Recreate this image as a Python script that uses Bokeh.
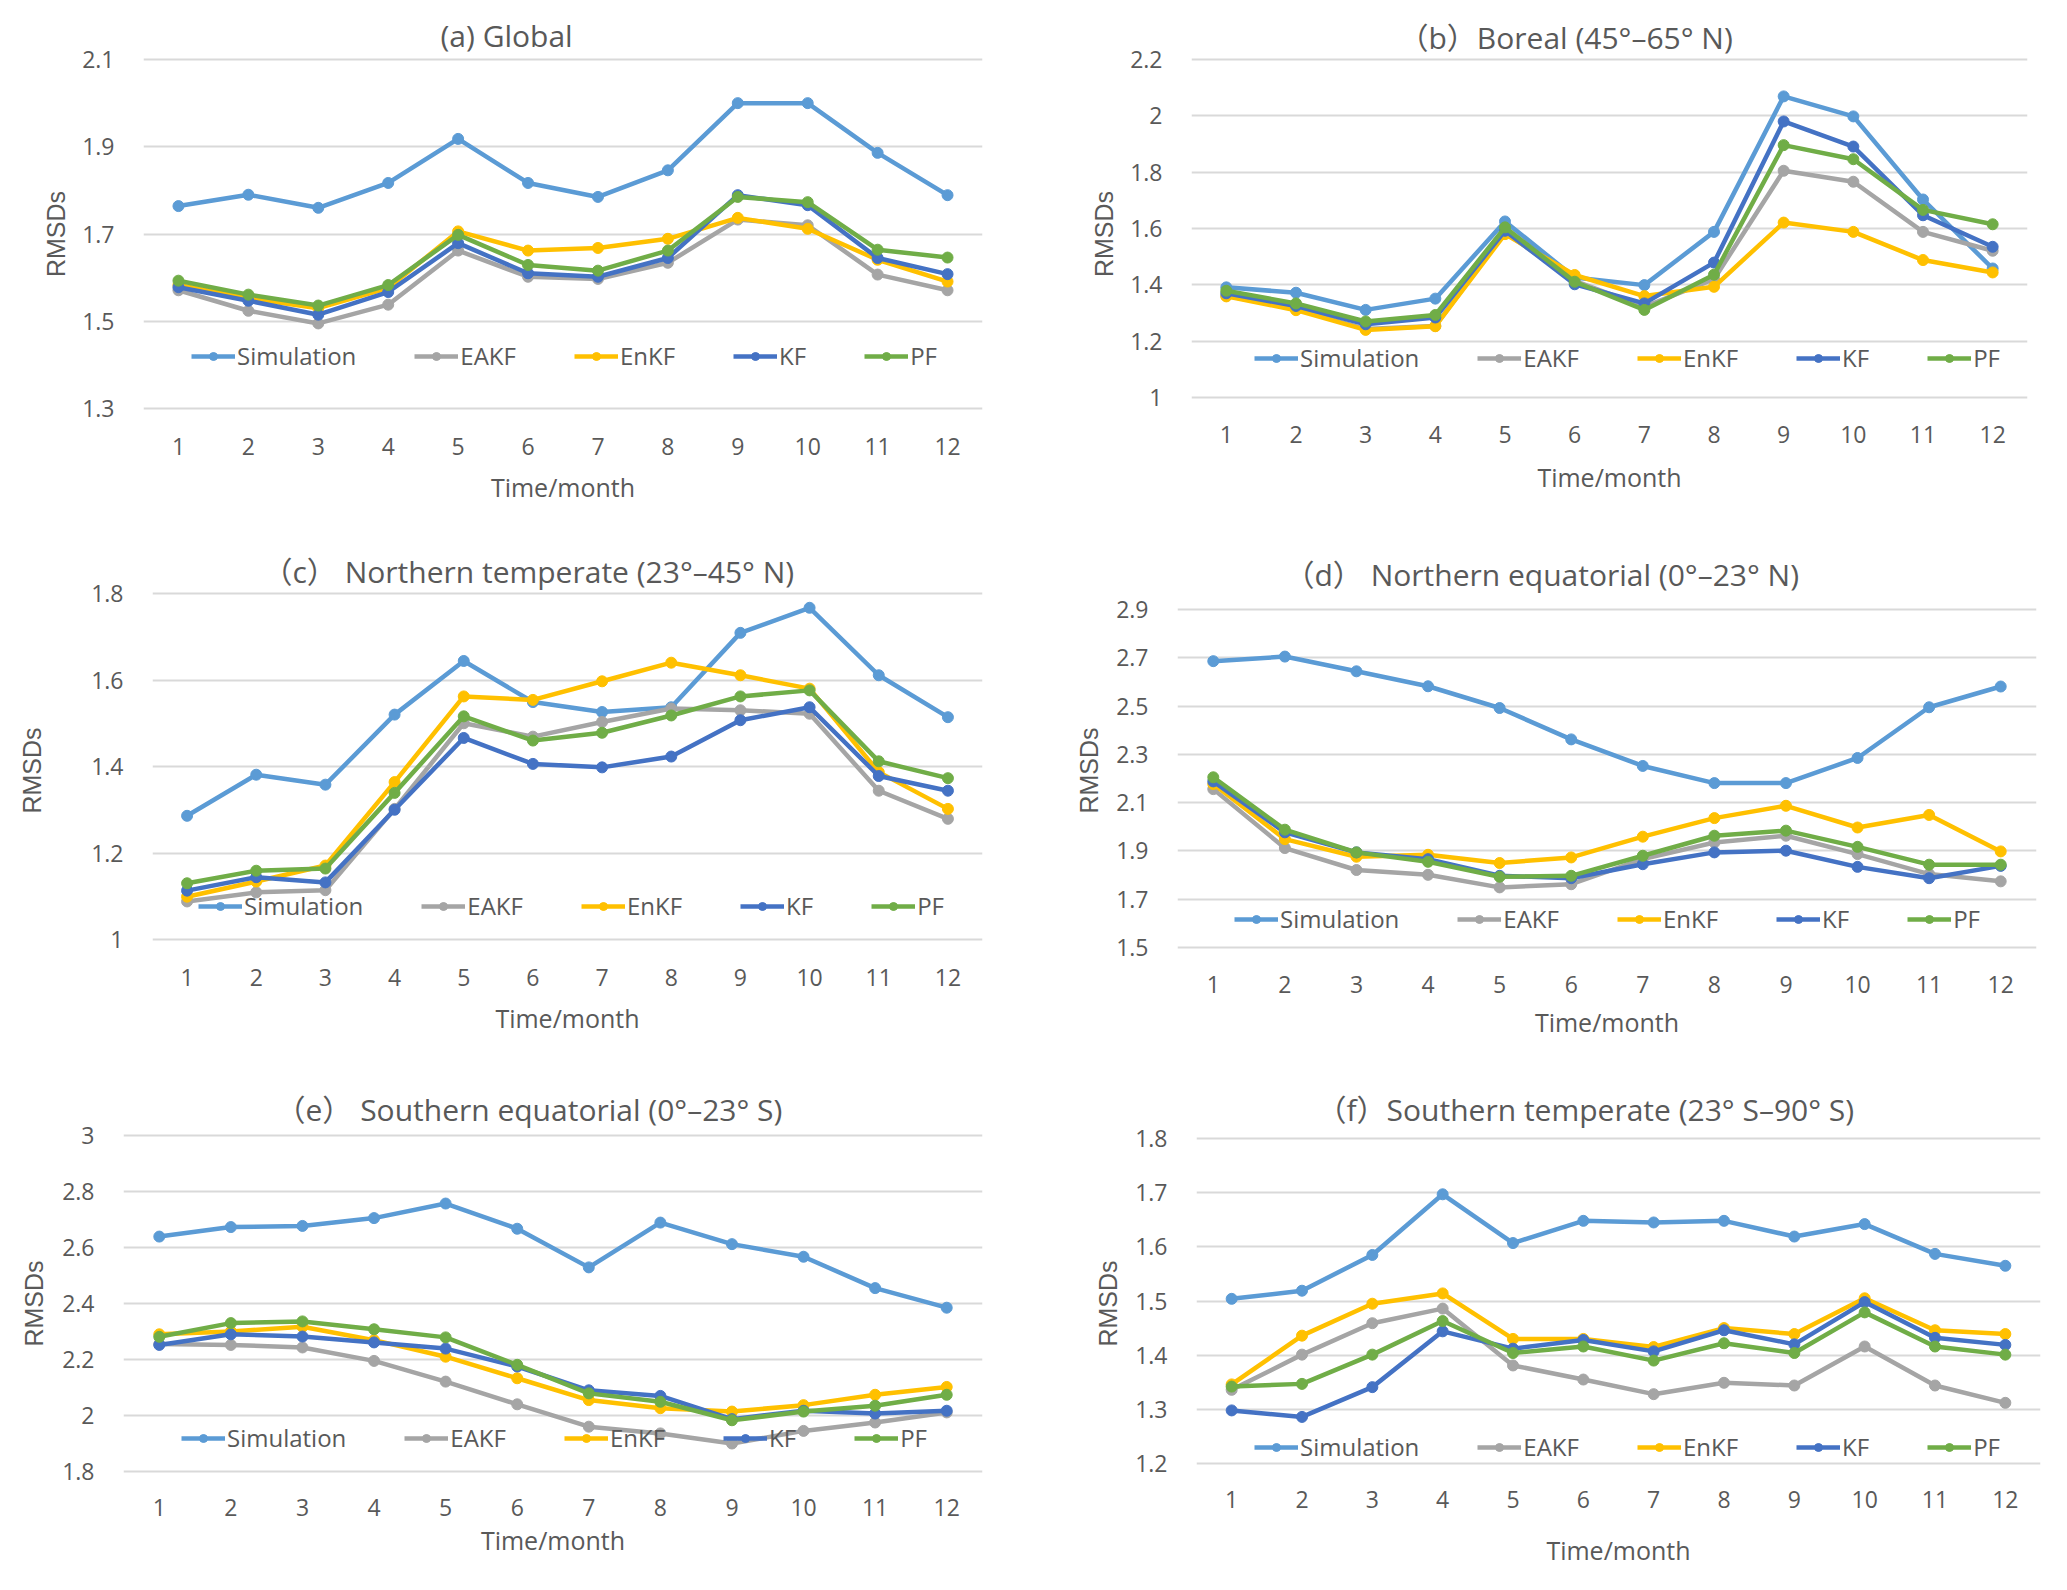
from bokeh.plotting import figure
from bokeh.models import (FixedTicker, NumeralTickFormatter, Legend, LegendItem,
                          Range1d, ColumnDataSource)
from bokeh.layouts import column, row
from bokeh.embed import file_html
from bokeh.resources import INLINE

months = list(range(1, 13))
series_names = ["Simulation", "EAKF", "EnKF", "KF", "PF"]
series_colors = ["#5B9BD5", "#A5A5A5", "#FFC000", "#4472C4", "#70AD47"]

# (a) Global
a_sim = [1.764, 1.790, 1.760, 1.817, 1.918, 1.817, 1.785, 1.846, 2.000, 2.000, 1.886, 1.789]
a_eakf = [1.571, 1.524, 1.495, 1.538, 1.662, 1.602, 1.597, 1.634, 1.733, 1.720, 1.607, 1.571]
a_enkf = [1.583, 1.553, 1.530, 1.576, 1.706, 1.662, 1.668, 1.689, 1.737, 1.712, 1.641, 1.591]
a_kf = [1.578, 1.547, 1.515, 1.567, 1.679, 1.610, 1.602, 1.645, 1.789, 1.766, 1.645, 1.608]
a_pf = [1.593, 1.561, 1.536, 1.583, 1.698, 1.629, 1.616, 1.662, 1.785, 1.773, 1.664, 1.646]
a_yticks = [1.3, 1.5, 1.7, 1.9, 2.1]

# (b) Boreal
b_sim = [1.391, 1.372, 1.311, 1.351, 1.625, 1.426, 1.399, 1.588, 2.069, 1.998, 1.703, 1.458]
b_eakf = [1.361, 1.314, 1.243, 1.254, 1.586, 1.414, 1.322, 1.420, 1.805, 1.766, 1.588, 1.521]
b_enkf = [1.359, 1.310, 1.240, 1.253, 1.580, 1.435, 1.360, 1.393, 1.621, 1.588, 1.488, 1.444]
b_kf = [1.370, 1.325, 1.260, 1.284, 1.592, 1.402, 1.334, 1.479, 1.980, 1.891, 1.647, 1.535]
b_pf = [1.379, 1.334, 1.270, 1.293, 1.604, 1.411, 1.311, 1.436, 1.896, 1.846, 1.666, 1.615]
b_yticks = [1.0, 1.2, 1.4, 1.6, 1.8, 2.0, 2.2]

# (c) Northern temperate
c_sim = [1.286, 1.381, 1.358, 1.520, 1.644, 1.549, 1.526, 1.537, 1.709, 1.767, 1.611, 1.514]
c_eakf = [1.088, 1.109, 1.114, 1.302, 1.500, 1.469, 1.503, 1.534, 1.530, 1.522, 1.344, 1.279]
c_enkf = [1.099, 1.134, 1.171, 1.364, 1.562, 1.554, 1.597, 1.640, 1.611, 1.580, 1.387, 1.302]
c_kf = [1.113, 1.144, 1.132, 1.300, 1.466, 1.406, 1.398, 1.423, 1.507, 1.537, 1.378, 1.344]
c_pf = [1.130, 1.159, 1.164, 1.339, 1.516, 1.460, 1.478, 1.518, 1.562, 1.576, 1.412, 1.373]
c_yticks = [1.0, 1.2, 1.4, 1.6, 1.8]

# (d) Northern equatorial
d_sim = [2.686, 2.705, 2.644, 2.582, 2.492, 2.362, 2.252, 2.181, 2.181, 2.285, 2.495, 2.581]
d_eakf = [2.156, 1.912, 1.821, 1.801, 1.749, 1.762, 1.866, 1.935, 1.963, 1.887, 1.804, 1.774]
d_enkf = [2.177, 1.949, 1.876, 1.884, 1.850, 1.873, 1.959, 2.036, 2.087, 1.997, 2.049, 1.898]
d_kf = [2.188, 1.977, 1.894, 1.866, 1.797, 1.787, 1.845, 1.894, 1.901, 1.834, 1.787, 1.838]
d_pf = [2.205, 1.988, 1.894, 1.855, 1.793, 1.797, 1.880, 1.963, 1.984, 1.917, 1.843, 1.843]
d_yticks = [1.5, 1.7, 1.9, 2.1, 2.3, 2.5, 2.7, 2.9]

# (e) Southern equatorial
e_sim = [2.639, 2.673, 2.677, 2.705, 2.757, 2.667, 2.529, 2.689, 2.612, 2.567, 2.455, 2.385]
e_eakf = [2.255, 2.252, 2.243, 2.195, 2.121, 2.040, 1.960, 1.936, 1.900, 1.945, 1.975, 2.011]
e_enkf = [2.290, 2.300, 2.317, 2.269, 2.210, 2.133, 2.055, 2.026, 2.014, 2.037, 2.074, 2.102]
e_kf = [2.252, 2.290, 2.282, 2.261, 2.239, 2.175, 2.090, 2.070, 1.987, 2.017, 2.007, 2.017]
e_pf = [2.281, 2.330, 2.336, 2.308, 2.279, 2.181, 2.079, 2.049, 1.983, 2.014, 2.035, 2.074]
e_yticks = [1.8, 2.0, 2.2, 2.4, 2.6, 2.8, 3.0]

# (f) Southern temperate
f_sim = [1.504, 1.519, 1.585, 1.697, 1.607, 1.648, 1.645, 1.648, 1.619, 1.642, 1.587, 1.565]
f_eakf = [1.336, 1.401, 1.459, 1.486, 1.381, 1.355, 1.328, 1.349, 1.344, 1.416, 1.344, 1.312]
f_enkf = [1.346, 1.436, 1.495, 1.514, 1.430, 1.430, 1.415, 1.450, 1.439, 1.505, 1.446, 1.439]
f_kf = [1.298, 1.286, 1.341, 1.444, 1.412, 1.428, 1.407, 1.446, 1.420, 1.498, 1.432, 1.419]
f_pf = [1.342, 1.347, 1.401, 1.463, 1.404, 1.416, 1.390, 1.422, 1.404, 1.479, 1.416, 1.401]
f_yticks = [1.2, 1.3, 1.4, 1.5, 1.6, 1.7, 1.8]

titles = ["(a) Global",
          "（b）Boreal (45°–65° N)",
          "（c） Northern temperate (23°–45° N)",
          "（d） Northern equatorial (0°–23° N)",
          "（e） Southern equatorial (0°–23° S)",
          "（f）Southern temperate (23° S–90° S)"]

TEXT = "#595959"
GRID = "#D9D9D9"
LATIN = "'Open Sans', 'Noto Sans CJK SC'"

# rows: (page top, height, frame top, frame bottom)
rows_geo = [(0, 530, 56, 411), (530, 528, 590, 950), (1058, 528, 1132, 1474)]
cols_geo = [(0, 1030), (1030, 1030)]

# per-panel layout in page pixels
panels = [
    dict(series=[a_sim, a_eakf, a_enkf, a_kf, a_pf], yt=a_yticks, rc=(0, 0),
         box=(143, 59, 982, 408), tstart=440, ty=37,
         leg=(191, 354), xtick=445, xtitle=486, ylab=9),
    dict(series=[b_sim, b_eakf, b_enkf, b_kf, b_pf], yt=b_yticks, rc=(0, 1),
         box=(1191, 59, 2027, 397), tstart=1398, ty=40,
         leg=(1254, 356), xtick=433, xtitle=476, ylab=9),
    dict(series=[c_sim, c_eakf, c_enkf, c_kf, c_pf], yt=c_yticks, rc=(1, 0),
         box=(152, 593, 982, 939), tstart=262, ty=574,
         leg=(198, 904), xtick=976, xtitle=1017, ylab=42),
    dict(series=[d_sim, d_eakf, d_enkf, d_kf, d_pf], yt=d_yticks, rc=(1, 1),
         box=(1177, 609, 2036, 947), tstart=1284, ty=580,
         leg=(1234, 917), xtick=983, xtitle=1021, ylab=10),
    dict(series=[e_sim, e_eakf, e_enkf, e_kf, e_pf], yt=e_yticks, rc=(2, 0),
         box=(123, 1135, 982, 1471), tstart=275, ty=1108,
         leg=(181, 1436), xtick=1506, xtitle=1539, ylab=11),
    dict(series=[f_sim, f_eakf, f_enkf, f_kf, f_pf], yt=f_yticks, rc=(2, 1),
         box=(1196, 1138, 2040, 1463), tstart=1316, ty=1108,
         leg=(1254, 1445), xtick=1498, xtitle=1549, ylab=10),
]

LEG_FONT = 24
LEG_H = 36


def make(spec, title):
    r, c = spec["rc"]
    oy, h, ftop, fbot = rows_geo[r]
    ox, w = cols_geo[c]
    L, T, R, B = spec["box"]
    yt = spec["yt"]
    y0, y1 = yt[0], yt[-1]
    dpp = (y1 - y0) / (B - T)
    p = figure(width=w, height=h, output_backend="svg", toolbar_location=None,
               title=title,
               x_range=Range1d(0.5, 12.5),
               y_range=Range1d(y0 - (fbot - B) * dpp, y1 + (T - ftop) * dpp),
               min_border_left=L - ox, min_border_right=(ox + w) - R,
               min_border_top=ftop - oy, min_border_bottom=(oy + h) - fbot)
    p.outline_line_color = None
    p.background_fill_color = "white"
    p.border_fill_color = "white"

    p.title.align = "left"
    p.title.offset = spec["tstart"] - L
    p.title.standoff = ftop - spec["ty"] - 18
    p.title.text_font = LATIN
    p.title.text_font_size = "30px"
    p.title.text_font_style = "normal"
    p.title.text_color = TEXT

    p.xgrid.visible = False
    p.ygrid.grid_line_color = GRID
    p.ygrid.grid_line_width = 2

    xa = p.xaxis[0]
    xa.ticker = FixedTicker(ticks=months)
    xa.axis_line_color = None
    xa.major_tick_line_color = None
    xa.minor_tick_line_color = None
    xa.major_label_text_font = LATIN
    xa.major_label_text_font_size = "23px"
    xa.major_label_text_color = TEXT
    xa.major_label_standoff = spec["xtick"] - fbot - 14
    xa.axis_label = "Time/month"
    xa.axis_label_text_font = LATIN
    xa.axis_label_text_font_size = "25px"
    xa.axis_label_text_font_style = "normal"
    xa.axis_label_text_color = TEXT
    xa.axis_label_standoff = (spec["xtitle"] - spec["xtick"]) - 29

    ya = p.yaxis[0]
    ya.ticker = FixedTicker(ticks=yt)
    ya.formatter = NumeralTickFormatter(format="0.[0]")
    ya.axis_line_color = None
    ya.major_tick_line_color = None
    ya.minor_tick_line_color = None
    ya.major_label_text_font = LATIN
    ya.major_label_text_font_size = "23px"
    ya.major_label_text_color = TEXT
    ya.major_label_standoff = 23
    ya.axis_label = "RMSDs"
    ya.axis_label_text_font = "Liberation Sans"
    ya.axis_label_text_font_size = "25px"
    ya.axis_label_text_font_style = "normal"
    ya.axis_label_text_color = TEXT
    ya.axis_label_standoff = spec["ylab"]

    items = []
    for name, color, vals in zip(series_names, series_colors, spec["series"]):
        src = ColumnDataSource(dict(x=months, y=vals))
        lr = p.line("x", "y", source=src, line_color=color, line_width=4.5,
                    line_join="round")
        sr = p.scatter("x", "y", source=src, size=11, marker="circle",
                       fill_color=color, line_color=color)
        items.append(LegendItem(label=name, renderers=[lr, sr]))

    lx, lcy = spec["leg"]
    legend = Legend(items=items, orientation="horizontal",
                    location=(lx - L, fbot - lcy - LEG_H / 2),
                    spacing=58, glyph_width=44, glyph_height=20,
                    label_standoff=2, padding=0, margin=0,
                    border_line_color=None, background_fill_alpha=0,
                    label_text_font=LATIN, label_text_font_size=f"{LEG_FONT}px",
                    label_text_color=TEXT)
    p.add_layout(legend)
    return p


figs = [make(s, t) for s, t in zip(panels, titles)]
layout = column(row(figs[0], figs[1]), row(figs[2], figs[3]), row(figs[4], figs[5]))

open("out.html", "w").write(file_html(layout, INLINE))
